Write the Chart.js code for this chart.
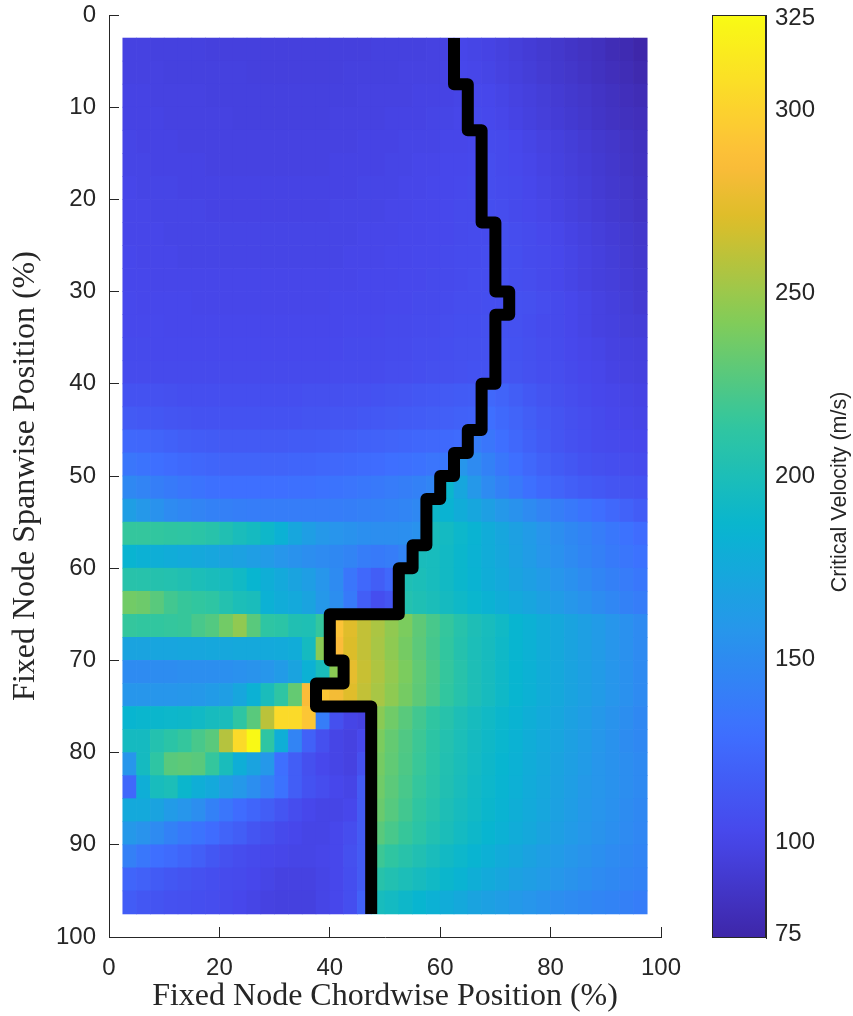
<!DOCTYPE html>
<html>
<head>
<meta charset="utf-8">
<script src="https://cdn.jsdelivr.net/npm/chart.js@4.4.1/dist/chart.umd.min.js"></script>
<style>
  html, body { margin: 0; padding: 0; background: #fff; }
  #wrap { position: relative; width: 853px; height: 1016px; }
  #main { position: absolute; left: 0; top: 0; }
  #bar { position: absolute; left: 690px; top: 0; }
</style>
</head>
<body>
<div id="wrap">
  <canvas id="main" width="690" height="1016"></canvas>
  <canvas id="bar" width="163" height="1016"></canvas>
</div>
<script>
// cell centres (%), both directions
const chordPos = [3.75, 6.25, 8.75, 11.25, 13.75, 16.25, 18.75, 21.25, 23.75, 26.25, 28.75, 31.25, 33.75, 36.25, 38.75, 41.25, 43.75, 46.25, 48.75,
  51.25, 53.75, 56.25, 58.75, 61.25, 63.75, 66.25, 68.75, 71.25, 73.75, 76.25, 78.75, 81.25, 83.75, 86.25, 88.75, 91.25, 93.75, 96.25];
const spanPos = [3.75, 6.25, 8.75, 11.25, 13.75, 16.25, 18.75, 21.25, 23.75, 26.25, 28.75, 31.25, 33.75, 36.25, 38.75, 41.25, 43.75, 46.25, 48.75,
  51.25, 53.75, 56.25, 58.75, 61.25, 63.75, 66.25, 68.75, 71.25, 73.75, 76.25, 78.75, 81.25, 83.75, 86.25, 88.75, 91.25, 93.75, 96.25];
const cellSize = 2.5;

// critical velocity (m/s), one row per spanwise position, columns chordwise
const velocity = [
  [98,98,97,97,97,97,96,96,96,96,96,96,96,96,96,96,96,96,97,97,97,97,98,98, 101,100,99,97,95,93,91,89,87,85,83,80,78,75],
  [98,98,98,97,97,97,97,97,97,96,96,96,96,96,96,96,97,97,97,97,98,98,98,99, 102,101,100,98,96,94,92,90,88,86,84,82,80,77],
  [99,99,98,98,98,98,97,97,97,97,97,97,97,97,97,97,97,98,98,98,98,99,99,99,100, 103,102,100,98,96,94,92,90,88,86,84,82,80],
  [99,99,99,98,98,98,98,98,97,97,97,97,97,97,97,98,98,98,98,99,99,99,100,100,101, 104,103,101,99,97,95,93,91,89,87,85,83,82],
  [100,99,99,99,98,98,98,98,98,98,98,98,98,98,98,98,98,99,99,99,100,100,100,101,101,102, 105,104,102,100,98,96,94,92,90,88,86,84],
  [100,100,99,99,99,99,98,98,98,98,98,98,98,98,98,99,99,99,99,100,100,101,101,102,102,103, 106,104,103,101,99,97,95,93,91,89,87,85],
  [101,100,100,100,99,99,99,99,99,99,99,99,99,99,99,99,99,100,100,100,101,101,102,102,103,104, 106,105,104,102,100,98,96,94,92,90,88,86],
  [101,101,100,100,100,100,99,99,99,99,99,99,99,99,99,100,100,100,100,101,101,102,102,103,104,104, 107,106,104,103,101,99,97,95,93,91,89,87],
  [101,101,101,100,100,100,100,100,100,100,100,100,100,100,100,100,100,101,101,101,102,102,103,103,104,105,105, 108,106,105,103,101,99,97,95,93,91,89],
  [102,101,101,101,100,100,100,100,100,100,100,100,100,100,100,100,101,101,101,102,102,103,103,104,105,105,106, 108,107,105,104,102,100,98,96,94,92,90],
  [102,102,101,101,101,101,101,101,101,101,101,101,101,101,101,101,101,102,102,102,103,103,104,104,105,106,106, 109,107,106,104,102,100,98,96,95,93,91],
  [103,102,102,102,102,101,101,101,101,101,101,101,101,101,101,102,102,102,102,103,103,104,104,105,106,106,107,107, 109,108,106,104,102,100,98,96,94,92],
  [103,103,103,102,102,102,102,102,102,102,102,102,102,102,102,102,103,103,103,104,104,105,105,106,107,107,108, 110,109,107,105,104,102,100,98,97,95,94],
  [104,104,103,103,103,103,103,103,103,103,103,103,103,103,103,103,104,104,104,105,105,106,106,107,108,108,109, 111,110,108,106,105,103,101,100,98,97,96],
  [105,105,104,104,104,104,104,104,104,104,104,104,104,104,104,105,105,105,105,106,106,107,108,108,109,110,110, 112,111,109,107,106,104,102,101,99,98,97],
  [110,110,109,108,107,107,107,107,107,107,107,107,107,108,108,108,109,109,110,111,112,113,114,115,116,117, 125,122,118,114,111,108,106,104,102,101,100,99],
  [115,114,113,112,111,110,110,110,110,110,110,110,110,111,111,112,112,113,114,115,116,117,118,119,120,121, 130,126,122,118,114,111,108,106,104,102,101,100],
  [125,124,122,120,118,117,116,115,115,115,115,115,116,116,117,118,119,120,121,122,123,124,125,126,127, 140,135,130,125,120,116,112,109,107,105,104,103,102],
  [135,133,130,128,126,124,123,122,122,122,122,122,123,123,124,125,126,127,128,130,131,132,134,136, 158,150,143,136,130,125,120,116,113,110,108,107,106,105],
  [148,145,141,138,135,133,131,130,130,130,130,130,131,131,132,133,134,136,137,139,141,143,146, 188,172,160,150,143,137,131,126,122,119,116,114,112,111,110],
  [165,160,155,150,147,145,143,142,141,140,140,140,140,140,140,140,141,142,143,144,146,148, 190,184,178,172,166,160,155,150,145,141,137,133,129,125,121,117],
  [215,215,214,213,212,210,208,203,198,195,190,182,172,165,160,157,155,153,152,152,153,155, 198,194,189,184,178,172,167,162,157,152,148,144,140,136,132,128],
  [185,182,180,178,176,174,172,170,168,165,162,158,155,152,150,148,145,140,138,140,145, 198,197,193,188,183,178,173,168,163,158,154,150,146,142,138,135,132],
  [208,207,206,205,203,200,198,196,192,186,180,175,170,165,158,150,135,125,118,125, 202,200,197,193,188,184,179,175,170,166,162,158,154,150,146,142,139,136],
  [237,235,228,220,216,214,212,205,200,198,182,178,175,170,160,152,138,118,107,112, 205,202,199,195,191,187,183,179,175,171,167,163,159,155,151,147,143,140],
  [215,214,214,215,216,222,226,237,247,228,212,210,203,202,215, 290,272,262,255,247,240,230,222,215,207,201,197,192,186,182,178,174,170,166,162,158,154,150],
  [170,170,171,171,172,172,173,173,174,174,175,176,178,195,245, 286,270,262,254,246,238,229,221,214,206,200,196,191,186,182,178,174,170,166,162,158,154,150],
  [150,150,151,151,152,152,152,153,154,156,158,162,170,182,198,245, 275,264,256,248,240,231,223,215,208,201,196,191,186,182,178,174,170,166,162,158,154,150],
  [158,158,158,158,159,160,162,165,172,182,198,212,232,285, 292,282,272,262,254,246,238,230,222,214,207,201,196,191,186,182,178,174,170,166,162,158,154,150],
  [186,187,188,189,190,192,196,198,212,228,260,305,305,292,140,108,100,98, 245,236,228,220,213,207,201,196,192,188,184,180,176,172,168,164,160,156,152,148],
  [195,195,205,210,215,222,228,258,305,325,212,180,145,120,108,100,98,103, 240,232,225,218,211,205,200,195,191,187,183,179,175,171,167,163,159,155,151,148],
  [158,195,212,228,230,228,215,198,180,170,160,130,118,108,103,100,98,108, 238,231,224,217,210,204,199,194,190,186,182,178,174,170,166,162,158,155,152,149],
  [125,180,197,200,188,180,175,165,160,152,143,132,118,110,106,102,100,115, 236,229,222,215,209,203,198,193,189,185,181,177,173,169,165,161,158,155,152,149],
  [175,175,170,162,158,152,143,135,128,123,118,112,106,102,100,100,102,115, 234,227,220,213,207,201,196,192,188,184,180,176,172,168,164,160,157,154,151,148],
  [160,156,150,143,137,133,128,122,118,112,108,104,102,100,100,102,106,115, 228,222,216,210,204,199,194,190,186,182,178,174,170,166,162,159,156,153,150,147],
  [142,136,130,127,123,119,113,109,106,104,102,101,100,100,101,102,108,115, 218,213,208,203,198,193,189,185,181,177,173,169,165,162,159,156,153,150,148,146],
  [123,120,116,113,111,109,107,105,104,102,100,98,98,98,100,102,107,115, 208,204,200,196,192,188,184,180,176,172,168,165,162,159,156,153,150,148,146,144],
  [117,113,111,109,108,107,106,104,102,100,98,97,97,97,100,102,107,120, 197,194,190,186,182,178,174,170,167,164,161,158,155,152,150,148,146,144,142,140]
];

// stability boundary (stepped black line)
const boundaryX = [62.5, 62.5, 65, 65, 67.5, 67.5, 70, 70, 72.5, 72.5, 70, 70, 67.5, 67.5, 65, 65, 62.5, 62.5,
  60, 60, 57.5, 57.5, 55, 55, 52.5, 52.5, 40, 40, 42.5, 42.5, 37.5, 37.5, 47.5, 47.5];
const boundaryY = [2.5, 7.5, 7.5, 12.5, 12.5, 22.5, 22.5, 30, 30, 32.5, 32.5, 40, 40, 45, 45, 47.5, 47.5, 50,
  50, 52.5, 52.5, 57.5, 57.5, 60, 60, 65, 65, 70, 70, 72.5, 72.5, 75, 75, 97.5];

const cbMin = 74;
const cbMax = 326;
const cbTicks = [75, 100, 150, 200, 250, 300, 325];

// parula-like colormap stops (fraction, r, g, b)
const parulaStops = [
  [0, 62, 38, 168], [0.111, 71, 71, 235], [0.222, 62, 111, 255], [0.333, 39, 150, 235],
  [0.444, 8, 181, 208], [0.556, 49, 198, 159], [0.667, 129, 204, 89], [0.778, 220, 189, 41],
  [0.84, 252, 188, 58], [0.889, 252, 207, 48], [1, 249, 251, 20]
];

function parula(v) {
  let t = (v - cbMin) / (cbMax - cbMin);
  t = Math.max(0, Math.min(1, t));
  for (let i = 1; i < parulaStops.length; i++) {
    const a = parulaStops[i - 1], b = parulaStops[i];
    if (t <= b[0]) {
      const f = (t - a[0]) / (b[0] - a[0]);
      const c = [1, 2, 3].map(k => Math.round(a[k] + (b[k] - a[k]) * f));
      return 'rgb(' + c.join(',') + ')';
    }
  }
  return 'rgb(249,251,20)';
}

const axisColor = '#262626';
const tickFont = { family: 'Liberation Sans', size: 24 };
const serifFont = { family: 'Liberation Serif', size: 32 };

// drop the extra room Chart.js keeps for overhanging tick labels
function noOverhang(s) {
  s.paddingTop = 0;
  s.paddingBottom = 0;
  s.paddingLeft = 0;
  s.paddingRight = 0;
}

const cells = [];
const cellColors = [];
velocity.forEach((row, r) => {
  row.forEach((v, c) => {
    cells.push({ x: chordPos[c], y: [spanPos[r] - cellSize / 2, spanPos[r] + cellSize / 2] });
    cellColors.push(parula(v));
  });
});

const boundary = boundaryX.map((x, i) => ({ x: x, y: boundaryY[i] }));

new Chart(document.getElementById('main'), {
  type: 'bar',
  data: {
    datasets: [
      {
        type: 'line',
        data: boundary,
        borderColor: '#000',
        borderWidth: 12,
        borderJoinStyle: 'round',
        borderCapStyle: 'butt',
        pointRadius: 0,
        fill: false,
        tension: 0,
        // keep the line ends flush with the top and bottom rows of cells
        clip: { left: 0, right: 0, top: -23, bottom: -23 },
        order: 0
      },
      {
        type: 'bar',
        data: cells,
        backgroundColor: cellColors,
        borderWidth: 0,
        barPercentage: 1,
        categoryPercentage: 1,
        order: 1
      }
    ]
  },
  options: {
    responsive: false,
    animation: false,
    events: [],
    layout: { padding: { top: 15, right: 29, left: 0, bottom: 0 } },
    plugins: { legend: { display: false }, tooltip: { enabled: false } },
    scales: {
      x: {
        type: 'linear',
        position: 'bottom',
        min: 0,
        max: 100,
        offset: false,
        grid: { drawOnChartArea: false, offset: false, tickLength: -10, color: axisColor },
        border: { color: axisColor, width: 1 },
        ticks: { stepSize: 20, padding: 27, font: tickFont, color: axisColor, maxRotation: 0 },
        title: { display: true, text: 'Fixed Node Chordwise Position (%)', font: serifFont, color: axisColor, padding: { top: 0, bottom: 0 } },
        afterFit: s => { s.height = 79; noOverhang(s); }
      },
      y: {
        type: 'linear',
        reverse: true,
        min: 0,
        max: 100,
        grid: { drawOnChartArea: false, tickLength: -10, color: axisColor },
        border: { color: axisColor, width: 1 },
        ticks: { stepSize: 10, padding: 23, font: tickFont, color: axisColor },
        title: { display: true, text: 'Fixed Node Spanwise Position (%)', font: serifFont, color: axisColor, padding: { top: 6, bottom: 0 } },
        afterFit: s => { s.width = 109; noOverhang(s); }
      }
    }
  }
});

// colorbar
const boxPlugin = {
  id: 'cbBox',
  afterDraw(chart) {
    const { ctx, chartArea: a } = chart;
    ctx.save();
    ctx.strokeStyle = axisColor;
    ctx.lineWidth = 1;
    ctx.strokeRect(a.left + 0.5, a.top + 0.5, a.right - a.left - 1, a.bottom - a.top - 1);
    ctx.translate(150, 492);
    ctx.rotate(-Math.PI / 2);
    ctx.fillStyle = axisColor;
    ctx.font = '21.5px "Liberation Sans"';
    ctx.textAlign = 'center';
    ctx.textBaseline = 'middle';
    ctx.fillText('Critical Velocity (m/s)', 0, 0);
    ctx.restore();
  }
};

new Chart(document.getElementById('bar'), {
  type: 'bar',
  data: {
    labels: ['cb'],
    datasets: [{
      data: [[cbMin, cbMax]],
      backgroundColor: (c) => {
        const chart = c.chart;
        const y = chart.scales.y;
        if (!chart.chartArea || !y) return 'rgba(0,0,0,0)';
        const g = chart.ctx.createLinearGradient(0, y.getPixelForValue(cbMin), 0, y.getPixelForValue(cbMax));
        for (let i = 0; i <= 60; i++) {
          g.addColorStop(i / 60, parula(cbMin + (cbMax - cbMin) * i / 60));
        }
        return g;
      },
      borderWidth: 0,
      barPercentage: 1,
      categoryPercentage: 1
    }]
  },
  options: {
    responsive: false,
    animation: false,
    events: [],
    layout: { padding: { left: 22, top: 15, bottom: 78, right: 0 } },
    plugins: { legend: { display: false }, tooltip: { enabled: false } },
    scales: {
      x: { display: false },
      y: {
        position: 'right',
        min: cbMin,
        max: cbMax,
        z: 1,
        afterBuildTicks: s => { s.ticks = cbTicks.map(v => ({ value: v })); },
        grid: { drawOnChartArea: false, tickLength: -10, color: axisColor },
        border: { color: axisColor, width: 1 },
        ticks: { padding: 19, font: tickFont, color: axisColor },
        afterFit: s => { s.width = 87; noOverhang(s); }
      }
    }
  },
  plugins: [boxPlugin]
});
</script>
</body>
</html>
